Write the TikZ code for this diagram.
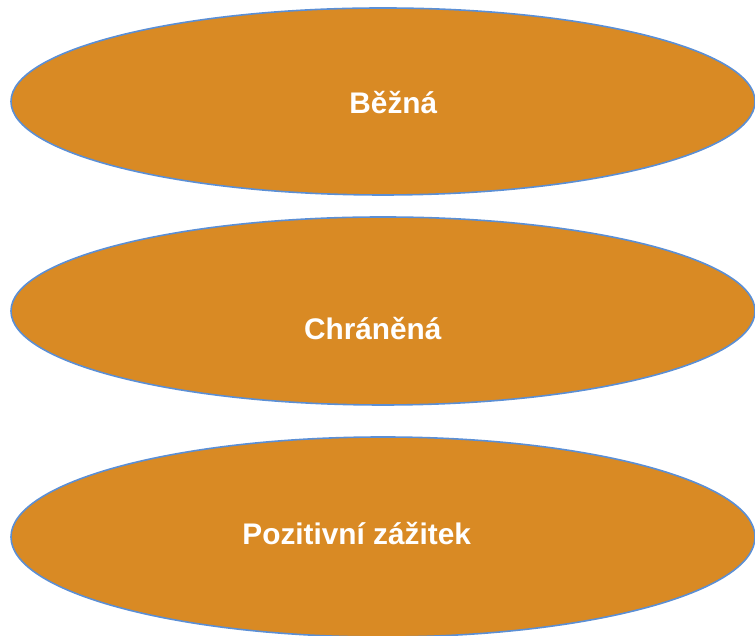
\documentclass[tikz,border=0pt]{standalone}
\usepackage{fontspec}
\setmainfont{Liberation Sans}
\usetikzlibrary{shapes.geometric}
\definecolor{ellfill}{RGB}{217,138,36}
\definecolor{ellline}{RGB}{91,143,213}
\tikzset{
  oval/.style={ellipse, draw=ellline, fill=ellfill, line width=1.6pt, inner sep=0pt, minimum width=744pt},
  lbl/.style={anchor=base, text=white, font=\fontsize{29.8}{32}\selectfont\bfseries, inner sep=0pt}
}
\begin{document}
\begin{tikzpicture}[x=1pt,y=1pt]
\useasboundingbox (0,0) rectangle (755,636);
\node[oval, minimum height=187pt] (e1) at (383,534.5) {};
\node[oval, minimum height=188pt] (e2) at (383,325) {};
\node[oval, minimum height=200pt] (e3) at (383,99) {};
\node[lbl] (t1) at (393.3,522) {Běžná};
\node[lbl] (t2) at (372.8,296.7) {Chráněná};
\node[lbl] (t3) at (356.7,91) {Pozitivní zážitek};
\end{tikzpicture}
\end{document}
